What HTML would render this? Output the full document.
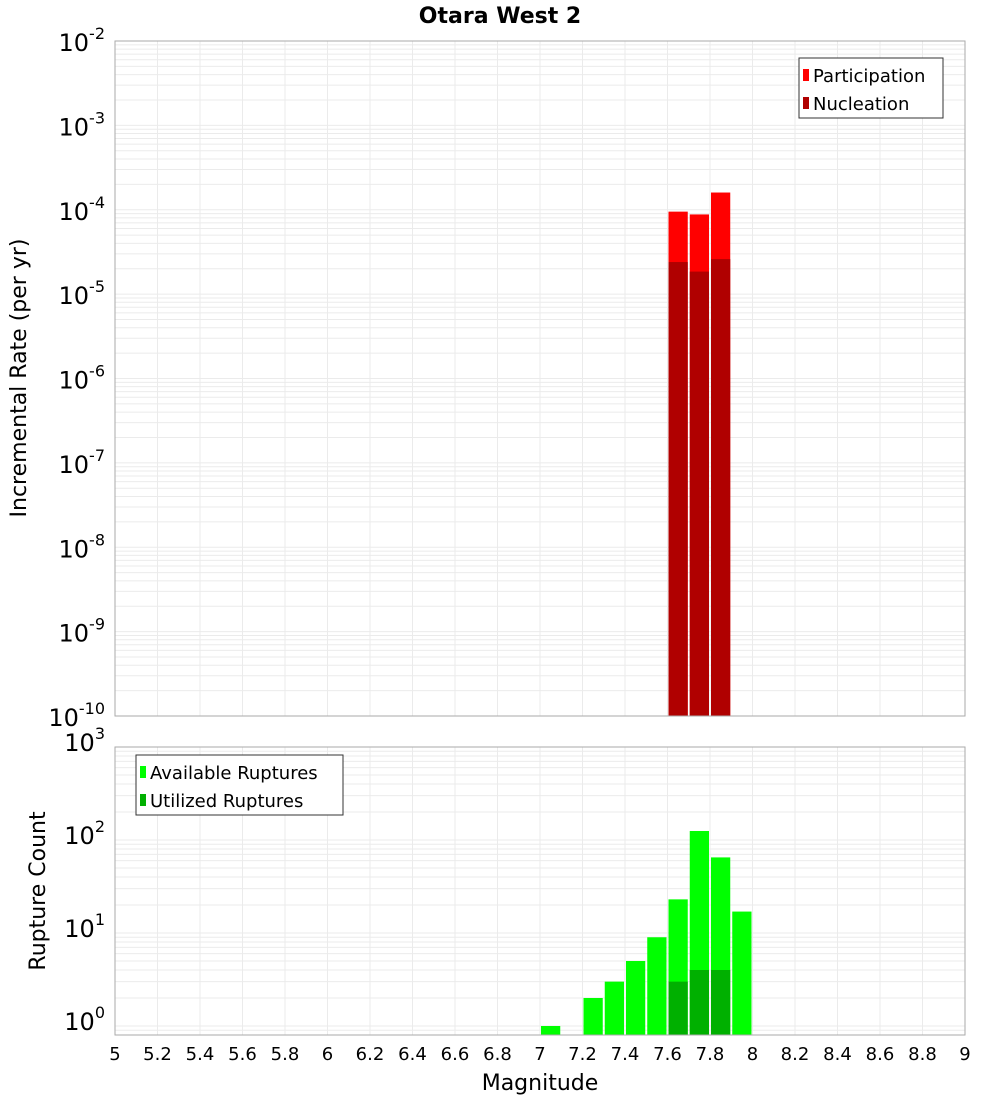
<!DOCTYPE html>
<html><head><meta charset="utf-8"><style>
body{margin:0;background:#fff;font-family:"Liberation Sans","DejaVu Sans",sans-serif}
</style></head><body>
<svg id="c" width="1000" height="1100" xmlns="http://www.w3.org/2000/svg" font-family="DejaVu Sans, Liberation Sans, sans-serif"></svg>
<script>
const binCenters=[7.65,7.75,7.85];
const participation=[9.5e-5,8.8e-5,1.6e-4];
const nucleation=[2.4e-5,1.85e-5,2.6e-5];
const countCenters=[7.05,7.25,7.35,7.45,7.55,7.65,7.75,7.85,7.95];
const available=[1,2,3,5,9,23,125,65,17];
const utilCenters=[7.65,7.75,7.85];
const utilized=[3,4,4];
const xTicks=[5,5.2,5.4,5.6,5.8,6,6.2,6.4,6.6,6.8,7,7.2,7.4,7.6,7.8,8,8.2,8.4,8.6,8.8,9];
const topExps=[-2,-3,-4,-5,-6,-7,-8,-9,-10];
const botExps=[3,2,1,0];

const NS="http://www.w3.org/2000/svg";
const svg=document.getElementById('c');
function mk(tag,attrs,parent){const e=document.createElementNS(NS,tag);for(const k in attrs)e.setAttribute(k,attrs[k]);(parent||svg).appendChild(e);return e;}
const X0=115,X1=965;
const x=m=>X0+(m-5)/4*(X1-X0);
const T0=41,T1=716;
const yTop=v=>T0+(-2-Math.log10(v))/8*(T1-T0);
const B0=747,B1=1035,BD=93;
const yBot=v=>B0+(3-Math.log10(v))*BD;

function grid(y0,y1,yf,eLo,eHi){
  for(const t of xTicks){const l=mk('line',{x1:x(t),x2:x(t),y1:y0,y2:y1,stroke:'#ebebeb','stroke-width':1});
  }
  for(let e=eLo;e<=eHi;e++)for(let k=1;k<10;k++){const yy=yf(k*Math.pow(10,e));if(yy<y0-0.5||yy>y1+0.5)continue;
    const l=mk('line',{x1:X0,x2:X1,y1:yy,y2:yy,stroke:'#ebebeb','stroke-width':1});
    }
}
grid(T0,T1,yTop,-10,-3);
grid(B0,B1,yBot,-1,2);

const bw=x(5.1)-x(5);
function bar(c,v,yf,base,fill,name){
  const yy=yf(v);const r=mk('rect',{x:x(c)-bw/2+1,y:yy,width:bw-2,height:base-yy,fill:fill});
  
}
participation.forEach((v,i)=>bar(binCenters[i],v,yTop,T1,'#ff0000','participation-bar'));
nucleation.forEach((v,i)=>bar(binCenters[i],v,yTop,T1,'#b00000','nucleation-bar'));
available.forEach((v,i)=>bar(countCenters[i],v,yBot,B1,'#00ff00','available-bar'));
utilized.forEach((v,i)=>bar(utilCenters[i],v,yBot,B1,'#00b000','utilized-bar'));

let f=mk('rect',{x:X0,y:T0,width:X1-X0,height:T1-T0,fill:'none',stroke:'#aaa'});

f=mk('rect',{x:X0,y:B0,width:X1-X0,height:B1-B0,fill:'none',stroke:'#aaa'});


function expLabel(e,yy,name){
  const t=mk('text',{x:105,y:yy+10,'text-anchor':'end','font-size':24,fill:'#000'});
  
  t.textContent='10';const s=mk('tspan',{dy:-12,'font-size':16},t);s.textContent=String(e);
}
topExps.forEach(e=>expLabel(e,yTop(Math.pow(10,e)),'top-y-tick-label'));
botExps.forEach(e=>expLabel(e,yBot(Math.pow(10,e))-6,'bottom-y-tick-label'));
xTicks.forEach(t=>{const l=mk('text',{x:x(t),y:1060,'text-anchor':'middle','font-size':18});
  l.textContent=String(t);});

function txt(s,attrs,name){const t=mk('text',attrs);t.textContent=s;return t;}
txt('Otara West 2',{x:500,y:23,'text-anchor':'middle','font-size':22,'font-weight':'bold'},'chart-title');
txt('Magnitude',{x:540,y:1090,'text-anchor':'middle','font-size':22},'x-axis-title');
txt('Incremental Rate (per yr)',{x:0,y:0,'text-anchor':'middle','font-size':22,transform:'translate(26,378) rotate(-90)'},'top-y-axis-title');
txt('Rupture Count',{x:0,y:0,'text-anchor':'middle','font-size':22,transform:'translate(45,891) rotate(-90)'},'bottom-y-axis-title');

function legend(x0,y0,w,items,name){
  const g=mk('g',{});
  mk('rect',{x:x0,y:y0,width:w,height:60,fill:'#fff',stroke:'#333'},g);
  items.forEach((it,i)=>{
    const r=mk('rect',{x:x0+4,y:y0+11+i*28,width:6,height:12,fill:it[1]},g);
    
    const t=mk('text',{x:x0+14,y:y0+24+i*28,'font-size':18},g);t.textContent=it[0];
    
  });
}
legend(799,58,144,[['Participation','#ff0000'],['Nucleation','#b00000']],'top-legend');
legend(136,755,207,[['Available Ruptures','#00ff00'],['Utilized Ruptures','#00b000']],'bottom-legend');
</script>
</body></html>
